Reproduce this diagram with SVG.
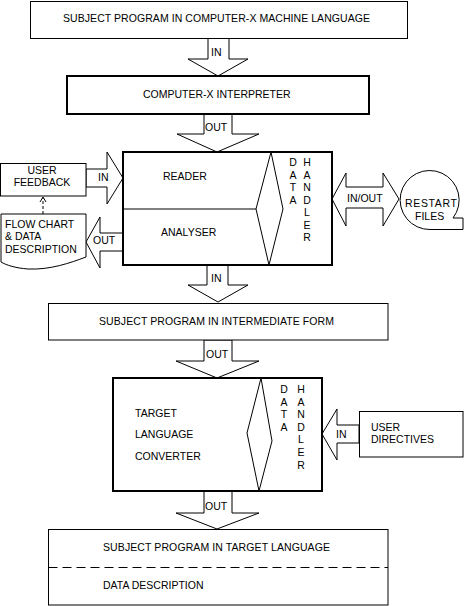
<svg xmlns="http://www.w3.org/2000/svg" width="476" height="606" viewBox="0 0 476 606">
<style>
text{font-family:"Liberation Sans",Arial,sans-serif;font-size:10.5px;fill:#000}
.v{text-anchor:middle}
.b{fill:#fff;stroke:#000;stroke-width:1}
.t{fill:#fff;stroke:#000;stroke-width:2}
.ln{fill:none;stroke:#000;stroke-width:1}
.a{fill:#fff;stroke:#000;stroke-width:1;stroke-linejoin:miter}
</style>
<rect width="476" height="606" fill="#fff"/>

<g id="connectors">
<polygon class="a" points="208,38 229,38 229,59 248,59 218,76 188,59 208,59"/>
<text x="211" y="56">IN</text>
<polygon class="a" points="204,114 232,114 232,134 259,134 217,152 177,134 204,134"/>
<text x="205" y="131">OUT</text>
<polygon class="a" points="86,169 107,169 107,152 123,178 107,204 107,187 86,187"/>
<text x="98" y="181">IN</text>
<polygon class="a" points="123,233 100,233 100,217 86,242 100,268 100,251 123,251"/>
<text x="93" y="244">OUT</text>
<polyline class="ln" points="43,214 43,198" stroke-dasharray="3,2"/>
<polyline class="ln" points="40,202 43,197 46,202"/>
<polygon class="a" points="332,199 346,173 346,187 383,187 383,173 399,199 383,226 383,208 346,208 346,226"/>
<text x="347" y="202">IN/OUT</text>
<polygon class="a" points="207,265 228,265 228,285 248,285 218,302 188,285 207,285"/>
<text x="211" y="282">IN</text>
<polygon class="a" points="204,340 232,340 232,361 259,361 217,378 176,361 204,361"/>
<text x="206" y="358">OUT</text>
<polygon class="a" points="359,425 337,425 337,409 322,434 337,460 337,443 359,443"/>
<text x="336" y="438">IN</text>
<polygon class="a" points="204,491 232,491 232,513 259,513 217,529 176,513 204,513"/>
<text x="205" y="510">OUT</text>
</g>

<g id="source">
<rect class="b" x="30.5" y="1.5" width="377" height="37"/>
<text x="63" y="22" textLength="307" lengthAdjust="spacing">SUBJECT PROGRAM IN COMPUTER-X MACHINE LANGUAGE</text>
</g>

<g id="interpreter">
<rect class="t" x="67" y="76" width="302" height="38"/>
<text x="143" y="98">COMPUTER-X INTERPRETER</text>
</g>

<g id="reader-analyser">
<rect class="t" x="123" y="152" width="209" height="113"/>
<line class="ln" x1="123" y1="209" x2="256" y2="209"/>
<polygon class="b" points="271,152 256,209 269,265 283,209"/>
<text x="163" y="180">READER</text>
<text x="161" y="236">ANALYSER</text>
<text class="v" x="293" y="166">D</text>
<text class="v" x="293" y="178.5">A</text>
<text class="v" x="293" y="191">T</text>
<text class="v" x="293" y="203.5">A</text>
<text class="v" x="307" y="166">H</text>
<text class="v" x="307" y="178.5">A</text>
<text class="v" x="307" y="191">N</text>
<text class="v" x="307" y="203.5">D</text>
<text class="v" x="307" y="216">L</text>
<text class="v" x="307" y="228.5">E</text>
<text class="v" x="307" y="241">R</text>
</g>

<g id="user-feedback">
<rect class="b" x="0.5" y="163.5" width="85.5" height="32.5"/>
<text class="v" x="42" y="174">USER</text>
<text class="v" x="42" y="186">FEEDBACK</text>
</g>

<g id="flow-chart">
<path class="b" d="M1,214 L86,214 L86,257 C70,263 50,270 28,269 C15,268 6,265 1,262 Z"/>
<text x="5" y="228">FLOW CHART</text>
<text x="5" y="240">&amp; DATA</text>
<text x="5" y="253">DESCRIPTION</text>
</g>

<g id="restart-files">
<path class="b" d="M453,218 A29.5,29.5 0 1 0 430,229.5 L463,229.5 L463,218 Z"/>
<text x="405" y="207" textLength="52" lengthAdjust="spacing">RESTART</text>
<text x="415" y="220">FILES</text>
</g>

<g id="intermediate">
<rect class="b" x="48.5" y="303.5" width="339.5" height="36.5"/>
<text x="99" y="325" textLength="235" lengthAdjust="spacing">SUBJECT PROGRAM IN INTERMEDIATE FORM</text>
</g>

<g id="converter">
<rect class="t" x="113" y="378" width="209" height="113"/>
<polygon class="b" points="261,378 247,433 259,491 272,441"/>
<text x="135" y="417">TARGET</text>
<text x="135" y="438">LANGUAGE</text>
<text x="135" y="460">CONVERTER</text>
<text class="v" x="284" y="393">D</text>
<text class="v" x="284" y="405.6">A</text>
<text class="v" x="284" y="418.2">T</text>
<text class="v" x="284" y="430.8">A</text>
<text class="v" x="301" y="393">H</text>
<text class="v" x="301" y="405.6">A</text>
<text class="v" x="301" y="418.2">N</text>
<text class="v" x="301" y="430.8">D</text>
<text class="v" x="301" y="443.4">L</text>
<text class="v" x="301" y="456">E</text>
<text class="v" x="301" y="468.6">R</text>
</g>

<g id="user-directives">
<rect class="b" x="359.5" y="411.5" width="103.5" height="45.5"/>
<text x="371" y="431">USER</text>
<text x="371" y="443">DIRECTIVES</text>
</g>

<g id="target">
<rect class="b" x="48.5" y="529.5" width="339.5" height="75.5"/>
<line class="ln" x1="48.5" y1="567.5" x2="388" y2="567.5" stroke-dasharray="9,5"/>
<text x="103" y="551" textLength="227" lengthAdjust="spacing">SUBJECT PROGRAM IN TARGET LANGUAGE</text>
<text x="103" y="589">DATA DESCRIPTION</text>
</g>
</svg>
